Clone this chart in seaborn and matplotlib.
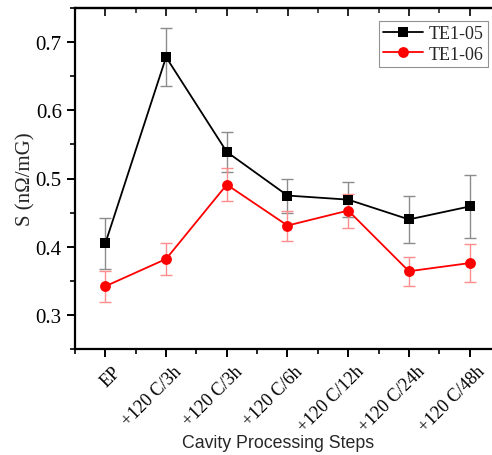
import numpy as np
import pandas as pd
import matplotlib
matplotlib.use("Agg")
import matplotlib.pyplot as plt
import matplotlib.transforms as mtransforms
import seaborn as sns
from matplotlib.ticker import MultipleLocator

steps = ["EP", "+120 C/3h", "+120 C/3h", "+120 C/6h", "+120 C/12h", "+120 C/24h", "+120 C/48h"]
te105 = [0.405, 0.678, 0.539, 0.475, 0.469, 0.440, 0.459]
te105_err = [0.037, 0.043, 0.029, 0.025, 0.026, 0.034, 0.046]
te106 = [0.342, 0.382, 0.491, 0.431, 0.453, 0.364, 0.376]
te106_err = [0.023, 0.024, 0.024, 0.022, 0.025, 0.021, 0.028]

sns.set_theme(style="ticks")
plt.rcParams['font.family'] = ['Liberation Serif', 'DejaVu Serif']
plt.rcParams['mathtext.fontset'] = 'stix'

pos = np.arange(len(steps))
df = pd.DataFrame({
    "pos": np.concatenate([pos, pos]),
    "S": te105 + te106,
    "err": te105_err + te106_err,
    "series": ["TE1-05"] * len(steps) + ["TE1-06"] * len(steps),
})

fig = plt.figure(figsize=(4.92, 4.56), dpi=100)
ax = fig.add_axes([75 / 492, (456 - 350) / 456, 425 / 492, 341 / 456])

palette = {"TE1-05": "black", "TE1-06": "#ff0000"}
errcol = {"TE1-05": "#8c8c8c", "TE1-06": "#ff8c8c"}
markers = {"TE1-05": "s", "TE1-06": "o"}
msizes = {"TE1-05": 6.6, "TE1-06": 7.8}

for name, sub in df.groupby("series"):
    ax.errorbar(sub["pos"], sub["S"], yerr=sub["err"], fmt="none",
                ecolor=errcol[name], elinewidth=1.0, capsize=4, capthick=1.0, zorder=1)
    sns.lineplot(data=sub, x="pos", y="S", ax=ax, color=palette[name],
                 marker=markers[name], markersize=msizes[name], markeredgewidth=0,
                 linewidth=1.3, label=name, zorder=3)

ax.set_xlim(-0.5, 6.5)
ax.set_ylim(0.25, 0.75)
ax.set_xticks(pos)
ax.xaxis.set_minor_locator(MultipleLocator(0.5))
ax.yaxis.set_minor_locator(MultipleLocator(0.05))
ax.set_yticks([0.3, 0.4, 0.5, 0.6, 0.7])
ax.set_yticklabels(["0.3", "0.4", "0.5", "0.6", "0.7"], fontsize=15)

for s in ax.spines.values():
    s.set_linewidth(1.6)
    s.set_color("black")

ax.tick_params(axis="both", which="major", direction="out", length=6, width=1.4, colors="black")
ax.tick_params(axis="both", which="minor", direction="out", length=3.5, width=1.2, colors="black")
ax.tick_params(axis="x", which="major", pad=3)
ax.tick_params(axis="y", which="both", right=False)
ax.tick_params(axis="x", which="both", top=False)

ax_top = ax.secondary_xaxis("top")
ax_top.set_xticks(pos)
ax_top.xaxis.set_minor_locator(MultipleLocator(0.5))
ax_top.tick_params(axis="x", which="major", direction="in", length=6, width=1.4, labeltop=False)
ax_top.tick_params(axis="x", which="minor", direction="in", length=3.5, width=1.2)
ax_top.spines["top"].set_linewidth(1.6)

ax.set_xticklabels(steps, rotation=45, ha="right", va="center", rotation_mode="anchor", fontsize=13)
offset = mtransforms.ScaledTranslation(13 / 100, -7 / 100, fig.dpi_scale_trans)
for lab in ax.get_xticklabels():
    lab.set_transform(lab.get_transform() + offset)

ax.set_xlabel("Cavity Processing Steps", fontsize=12.8, family=["Liberation Sans", "DejaVu Sans"])
ax.xaxis.set_label_coords((278 - 75) / 425, (350 - 435) / 341)
ax.set_ylabel("S (nΩ/mG)", fontsize=15, labelpad=0.5)

leg = ax.legend(loc="upper right", bbox_to_anchor=(488 / 492, (456 - 21.5) / 456),
                bbox_transform=fig.transFigure, borderaxespad=0, fontsize=13,
                frameon=True, fancybox=False, handlelength=2.2, handletextpad=0.3,
                borderpad=0.25, labelspacing=0.2)
leg.get_frame().set_edgecolor("#777777")
leg.get_frame().set_linewidth(0.8)

fig.savefig("out.png", dpi=100)
